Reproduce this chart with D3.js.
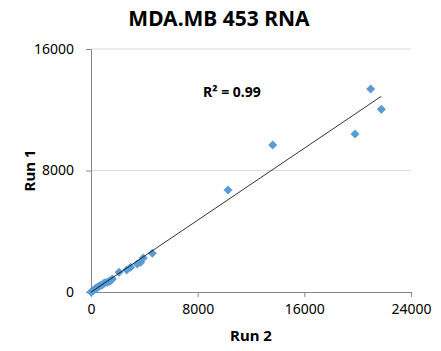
<!DOCTYPE html>
<html>
<head>
<meta charset="utf-8">
<script src="https://cdn.jsdelivr.net/npm/d3@7"></script>
<style>
  body { margin: 0; background: #fff; }
  text { font-family: "Noto Sans", "Open Sans", sans-serif; fill: #000; }
</style>
</head>
<body>
<div id="chart"></div>
<script>
// Run 2 (x) and Run 1 (y) values
const run2 = [0, 60, 120, 175, 260, 330, 400, 475, 560, 650, 720, 850, 950, 1050, 1225, 1350, 1475, 1600,
              2100, 2675, 2975, 3475, 3725, 3925, 4600, 10275, 13627, 19800, 20975, 21775];
const run1 = [0, 40, 70, 120, 160, 210, 260, 300, 350, 400, 430, 480, 560, 600, 640, 700, 740, 850,
              1295, 1450, 1625, 1845, 1955, 2240, 2550, 6715, 9677, 10400, 13365, 12025];
const xTicks = [0, 8000, 16000, 24000];
const yTicks = [0, 8000, 16000];
const titleText = "MDA.MB 453 RNA";
const r2Label = "R² = 0.99";

const W = 441, H = 351;
const margin = { top: 49, right: 30, bottom: 59, left: 91 };
const width = W - margin.left - margin.right,
      height = H - margin.top - margin.bottom;

const svg = d3.select("#chart").append("svg")
    .attr("width", W).attr("height", H);

const g = svg.append("g")
    .attr("transform", `translate(${margin.left},${margin.top})`);

const x = d3.scaleLinear().domain([0, 24000]).range([0, width]);
const y = d3.scaleLinear().domain([0, 16000]).range([height, 0]);

// horizontal gridlines
g.selectAll("line.grid")
    .data(yTicks.filter(d => d > 0))
    .enter().append("line")
    .attr("class", "grid")
    .attr("x1", 0).attr("x2", width)
    .attr("y1", d => y(d)).attr("y2", d => y(d))
    .attr("stroke", "#d9d9d9").attr("stroke-width", 1);

// axes
const xAxis = g.append("g")
    .attr("transform", `translate(0,${height})`)
    .call(d3.axisBottom(x).tickValues(xTicks).tickSize(5).tickPadding(7).tickFormat(d3.format("d")));
const yAxis = g.append("g")
    .call(d3.axisLeft(y).tickValues(yTicks).tickSize(5).tickPadding(12).tickFormat(d3.format("d")));

[xAxis, yAxis].forEach(a => {
    a.select(".domain").attr("stroke", "#868686");
    a.selectAll(".tick line").attr("stroke", "#868686");
    a.selectAll(".tick text").attr("font-size", 14).attr("fill", "#000")
        .attr("font-family", "'Noto Sans', sans-serif");
});

// linear trendline (least squares)
const n = run2.length;
const mx = d3.mean(run2), my = d3.mean(run1);
let sxy = 0, sxx = 0;
for (let i = 0; i < n; i++) {
    sxy += (run2[i] - mx) * (run1[i] - my);
    sxx += (run2[i] - mx) * (run2[i] - mx);
}
const slope = sxy / sxx, intercept = my - slope * mx;
const xExt = d3.extent(run2);

// points
const pts = run2.map((v, i) => [v, run1[i]]);
g.selectAll("path.pt")
    .data(pts)
    .enter().append("path")
    .attr("class", "pt")
    .attr("d", d3.symbol().type(d3.symbolDiamond2).size(52))
    .attr("transform", d => `translate(${x(d[0])},${y(d[1])})`)
    .attr("fill", "#5b9bd5");

g.append("line")
    .attr("x1", x(xExt[0])).attr("y1", y(intercept + slope * xExt[0]))
    .attr("x2", x(xExt[1])).attr("y2", y(intercept + slope * xExt[1]))
    .attr("stroke", "#000").attr("stroke-width", 0.8);

// R² label
g.append("text")
    .attr("x", 112).attr("y", 48)
    .attr("font-size", 14).attr("font-weight", "bold")
    .text(r2Label);

// title
svg.append("text")
    .attr("x", 219).attr("y", 26)
    .attr("text-anchor", "middle")
    .attr("font-size", 21).attr("font-weight", "bold")
    .text(titleText);

// axis titles
svg.append("text")
    .attr("x", margin.left + width / 2).attr("y", 341)
    .attr("text-anchor", "middle")
    .attr("font-size", 15).attr("font-weight", "bold")
    .text("Run 2");

svg.append("text")
    .attr("transform", `translate(35,${margin.top + height / 2}) rotate(-90)`)
    .attr("text-anchor", "middle")
    .attr("font-size", 15).attr("font-weight", "bold")
    .text("Run 1");
</script>
</body>
</html>
